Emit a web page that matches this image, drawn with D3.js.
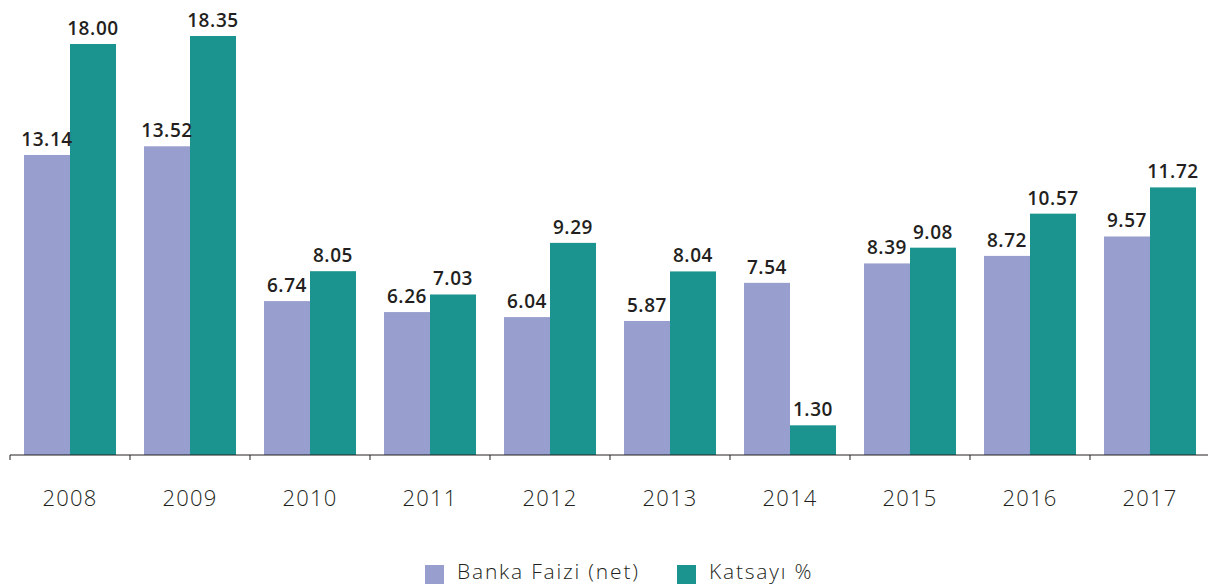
<head>
    <style> body { margin: 0; background: #fff; } </style>
    <script src="https://d3js.org/d3.v7.min.js"></script>
</head>
<body>
    <svg id="chart" width="1208" height="584"></svg>
    <script>
        const years = ['2008', '2009', '2010', '2011', '2012', '2013', '2014', '2015', '2016', '2017']
        const banka = [13.14, 13.52, 6.74, 6.26, 6.04, 5.87, 7.54, 8.39, 8.72, 9.57]
        const katsayi = [18.00, 18.35, 8.05, 7.03, 9.29, 8.04, 1.30, 9.08, 10.57, 11.72]
        const seriesNames = ['Banka Faizi (net)', 'Katsayı %']
        const colors = ['#989ece', '#1b948f']

        const width = 1208
        const height = 584
        const marginLeft = 10
        const baseY = 455

        const svg = d3.select('#chart')

        let x = d3.scaleBand()
            .domain(years)
            .range([marginLeft, marginLeft + 120 * years.length])
            .paddingInner(0.2333)
            .paddingOuter(0.1167)

        let y = d3.scaleLinear()
            .domain([0, 18])
            .range([baseY, 44])

        let x1 = d3.scaleBand()
            .domain([0, 1])
            .range([0, x.bandwidth()])

        const rows = years.map((yr, i) => ({ year: yr, vals: [banka[i], katsayi[i]] }))

        const groups = svg.append('g')
            .selectAll('g')
            .data(rows)
            .join('g')
            .attr('transform', d => `translate(${x(d.year)},0)`)

        groups.selectAll('rect')
            .data(d => d.vals)
            .join('rect')
                .attr('x', (d, i) => x1(i))
                .attr('y', d => y(d))
                .attr('width', x1.bandwidth())
                .attr('height', d => baseY - y(d))
                .attr('fill', (d, i) => colors[i])

        groups.selectAll('text')
            .data(d => d.vals)
            .join('text')
                .attr('x', (d, i) => x1(i) + x1.bandwidth() / 2)
                .attr('y', d => y(d) - 9)
                .attr('text-anchor', 'middle')
                .style('font-family', '"Open Sans", sans-serif')
                .style('font-weight', 600)
                .style('font-size', '19px')
                .style('letter-spacing', '0.6px')
                .style('fill', '#231f20')
                .text(d => d.toFixed(2))

        // axis: ticks on band boundaries
        const axis = svg.append('g')
        axis.append('line')
            .attr('x1', marginLeft).attr('x2', width)
            .attr('y1', baseY).attr('y2', baseY)
            .attr('stroke', '#231f20')
        axis.selectAll('line.tick')
            .data(years)
            .join('line')
                .attr('class', 'tick')
                .attr('x1', d => x(d) - x.step() * x.paddingOuter())
                .attr('x2', d => x(d) - x.step() * x.paddingOuter())
                .attr('y1', baseY).attr('y2', baseY + 5)
                .attr('stroke', '#231f20')
        axis.selectAll('text')
            .data(years)
            .join('text')
                .attr('x', d => x(d) + x.bandwidth() / 2)
                .attr('y', 506)
                .attr('text-anchor', 'middle')
                .style('font-family', '"Open Sans", sans-serif')
                .style('font-weight', 300)
                .style('font-size', '22px')
                .style('letter-spacing', '1.2px')
                .style('fill', '#231f20')
                .text(d => d)

        // legend
        const legendX = [425, 677]
        const legend = svg.append('g')
            .selectAll('g')
            .data(seriesNames)
            .join('g')
            .attr('transform', (d, i) => `translate(${legendX[i]},565)`)
        legend.append('rect')
            .attr('width', 19).attr('height', 19)
            .attr('fill', (d, i) => colors[i])
        legend.append('text')
            .attr('x', 32).attr('y', 14)
            .style('font-family', '"Open Sans", sans-serif')
            .style('font-weight', 300)
            .style('font-size', '21px')
            .style('letter-spacing', '1.8px')
            .style('fill', '#231f20')
            .text(d => d)
    </script>
</body>
